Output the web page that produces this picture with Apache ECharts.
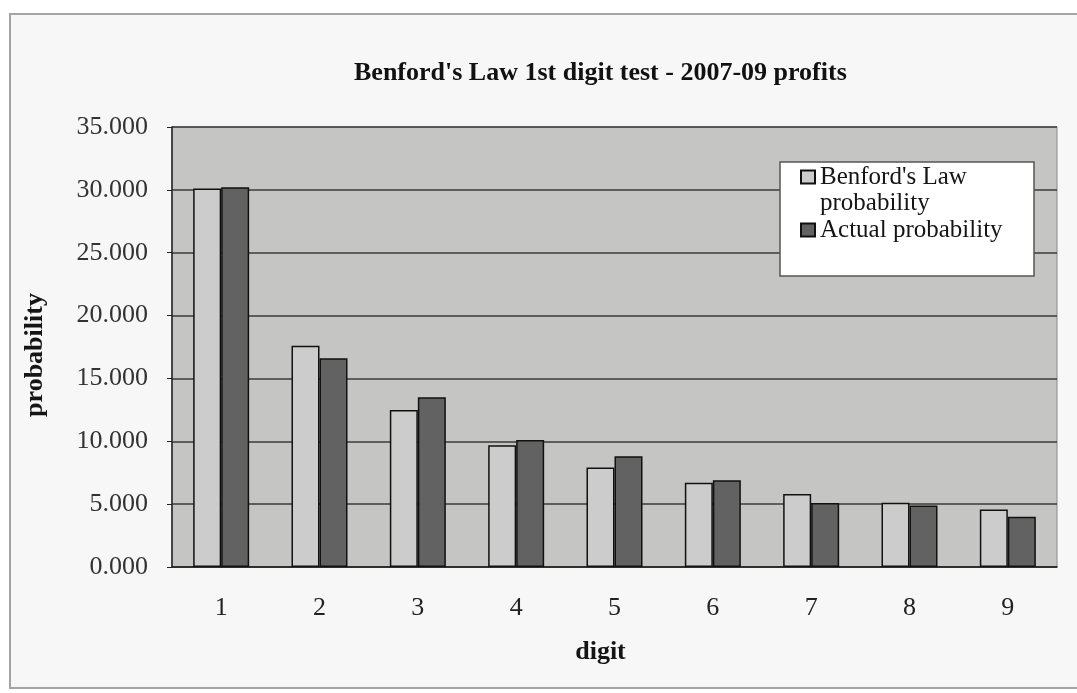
<!DOCTYPE html>
<html>
<head>
<meta charset="utf-8">
<style>
  html, body { margin: 0; padding: 0; background: #ffffff; }
  #frame { position: absolute; left: 9px; top: 13px; width: 1100px; height: 672px; border: 2px solid #a4a4a4; background: #f7f7f7; }
  #main { position: absolute; left: 0; top: 0; width: 1077px; height: 693px; }
</style>
<script src="https://cdn.jsdelivr.net/npm/echarts@6/dist/echarts.min.js"></script>
</head>
<body>
<div id="frame"></div>
<div id="main"></div>
<script>
const digits = ['1', '2', '3', '4', '5', '6', '7', '8', '9']
const benfordValues = [30.103, 17.609, 12.494, 9.691, 7.918, 6.695, 5.799, 5.115, 4.576]
const actualValues = [30.2, 16.6, 13.5, 10.1, 8.8, 6.9, 5.1, 4.9, 4.0]

const serif = 'Liberation Serif'
const benfordName = "Benford's Law probability"
const actualName = 'Actual probability'

let chart = echarts.init(document.getElementById('main'))

let option = {
  animation: false,
  title: {
    text: "Benford's Law 1st digit test - 2007-09 profits",
    left: 349,
    top: 55,
    textStyle: {fontFamily: serif, fontWeight: 'bold', fontSize: 26, color: '#111'}
  },
  legend: {
    orient: 'vertical',
    left: 800,
    top: 138,
    padding: 0,
    itemGap: 1,
    itemWidth: 14,
    itemHeight: 13,
    icon: 'rect',
    data: [benfordName, actualName],
    // empty first line keeps the icon level with "Benford's Law"
    formatter: name => name === benfordName ? "\nBenford's Law\nprobability" : name,
    textStyle: {fontFamily: serif, fontSize: 25, lineHeight: 26, color: '#151515'}
  },
  graphic: [
    {
      // legend box, above the split lines
      type: 'rect',
      shape: {x: 780, y: 162, width: 254, height: 114},
      style: {fill: '#ffffff', stroke: '#555555', lineWidth: 1.5},
      z: 3
    }
  ],
  grid: {
    left: 172,
    right: 20,
    top: 127,
    bottom: 126,
    show: true,
    backgroundColor: '#c5c5c3',
    borderColor: '#8a8a8a',
    borderWidth: 1
  },
  xAxis: {
    type: 'category',
    data: digits,
    name: 'digit',
    nameLocation: 'middle',
    nameGap: 72,
    nameTextStyle: {fontFamily: serif, fontWeight: 'bold', fontSize: 26, color: '#151515', padding: [0, 28, 0, 0]},
    axisLine: {lineStyle: {color: '#222', width: 1.5}},
    axisTick: {length: 5, lineStyle: {color: '#444'}},
    axisLabel: {fontFamily: serif, fontSize: 26, color: '#222', margin: 28}
  },
  yAxis: {
    type: 'value',
    min: 0,
    max: 35,
    interval: 5,
    name: 'probability',
    nameLocation: 'middle',
    nameGap: 124,
    nameTextStyle: {fontFamily: serif, fontWeight: 'bold', fontSize: 26, color: '#151515', padding: [0, 16, 0, 0]},
    axisLine: {show: true, lineStyle: {color: '#222', width: 1.5}},
    axisTick: {show: true, length: 5, lineStyle: {color: '#222'}},
    axisLabel: {
      fontFamily: serif, fontSize: 26, color: '#333', margin: 24,
      formatter: v => v.toFixed(3)
    },
    splitLine: {lineStyle: {color: '#3a3a3a', width: 1.5}}
  },
  series: [
    {
      name: benfordName,
      type: 'bar',
      data: benfordValues,
      barWidth: 28,
      barGap: '0%',
      itemStyle: {color: '#cccccc', borderColor: '#111', borderWidth: 1.5}
    },
    {
      name: actualName,
      type: 'bar',
      data: actualValues,
      barWidth: 28,
      itemStyle: {color: '#626262', borderColor: '#111', borderWidth: 1.5}
    }
  ]
}
chart.setOption(option)
</script>
</body>
</html>
